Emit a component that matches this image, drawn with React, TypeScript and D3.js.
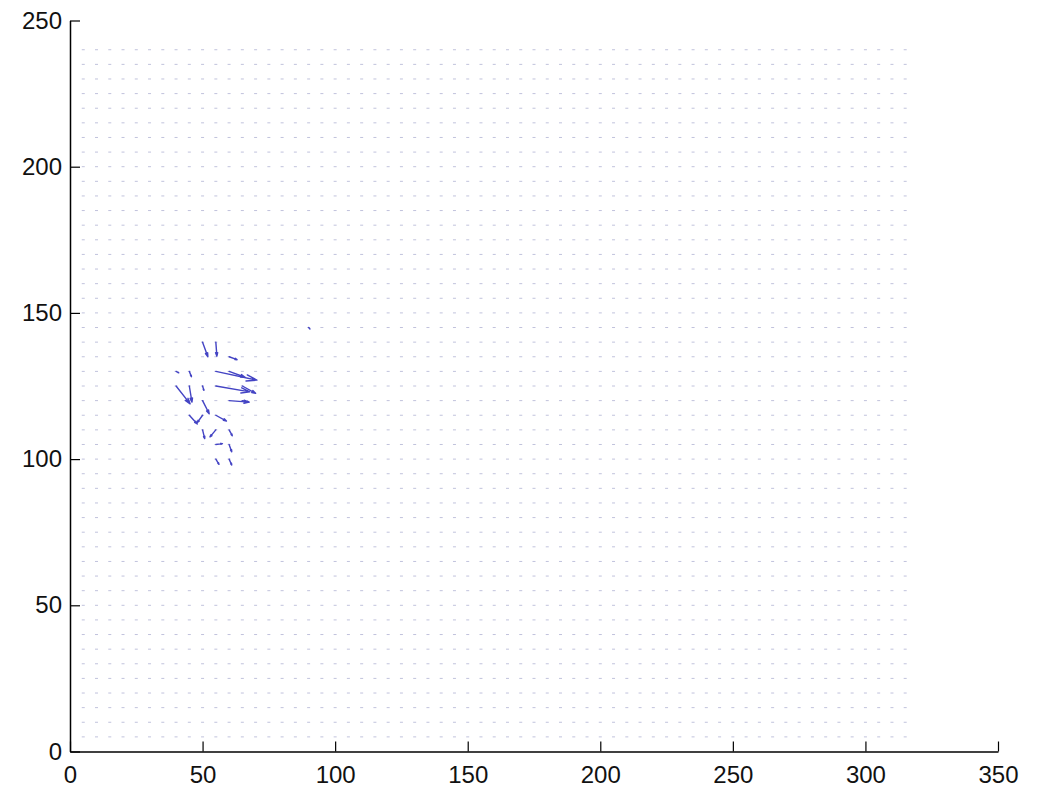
import React, { useEffect, useRef } from 'react';
import * as d3 from 'd3';

// grid of sample points (image coords, every 5 px)
const gridX = d3.range(5, 320, 5);
const gridY = d3.range(5, 245, 5);

// non-zero flow vectors: [x, y, u, v]
const flowX = [55, 50, 55, 60, 55, 60, 65, 65, 60, 40, 45, 40, 45, 50, 50, 45, 50, 55, 50, 55, 60, 55, 60, 55, 60, 90];
const flowY = [140, 140, 130, 130, 125, 120, 120, 125, 135, 130, 130, 125, 125, 125, 120, 115, 115, 115, 110, 110, 110, 105, 105, 100, 100, 145];
const flowU = [0.4, 2, 15.5, 6, 12.8, 7.5, 2.5, 5, 3, 1, 0.8, 5.3, 1, 0.5, 2.5, 3, -2, 4, 0.8, -2.2, 1.2, 2.5, 1, 1.2, 1, 0.5];
const flowV = [-4.8, -5, -3, -2, -2, -0.5, -0.5, -2.5, -1, -0.5, -1.8, -6.1, -5.5, -1.5, -4.5, -3, -2.5, -2, -3, -2.4, -2, 0.3, -2.5, -1.8, -2, -0.5];

const xTicks = [0, 50, 100, 150, 200, 250, 300, 350];
const yTicks = [0, 50, 100, 150, 200, 250];

const App = () => {
  const ref = useRef<SVGSVGElement>(null);

  useEffect(() => {
    const svg = d3.select(ref.current);
    svg.selectAll('*').remove();

    const x = d3.scaleLinear().domain([0, 350]).range([70, 998]);
    const y = d3.scaleLinear().domain([0, 250]).range([751.5, 20.5]);

    // background: zero vectors drawn as faint marks
    const pts = gridX.flatMap(gx => gridY.map(gy => [gx, gy]));
    svg.append('g')
      .selectAll('line')
      .data(pts)
      .join('line')
        .attr('x1', d => x(d[0]) - 1.5)
        .attr('x2', d => x(d[0]) + 1.5)
        .attr('y1', d => y(d[1]))
        .attr('y2', d => y(d[1]))
        .attr('stroke', '#c0c2dc')
        .attr('stroke-width', 1);

    // quiver arrows (matlab style heads)
    const flow = flowX.map((fx, i) => ({ x: fx, y: flowY[i], u: flowU[i], v: flowV[i] }));
    const alpha = 0.25, beta = 0.3;
    const arrowPath = d => {
      const x0 = x(d.x), y0 = y(d.y);
      const dx = x(d.x + d.u) - x0, dy = y(d.y + d.v) - y0;
      const x1 = x0 + dx, y1 = y0 + dy;
      const p = d3.path();
      p.moveTo(x0, y0);
      p.lineTo(x1, y1);
      p.moveTo(x1 - alpha * (dx + beta * dy), y1 - alpha * (dy - beta * dx));
      p.lineTo(x1, y1);
      p.lineTo(x1 - alpha * (dx - beta * dy), y1 - alpha * (dy + beta * dx));
      return p.toString();
    };
    svg.append('g')
      .selectAll('path')
      .data(flow)
      .join('path')
        .attr('d', arrowPath)
        .attr('fill', 'none')
        .attr('stroke', '#4444c4')
        .attr('stroke-width', 1.4)
        .attr('stroke-linecap', 'round')
        .attr('stroke-linejoin', 'round');

    // axes
    const font = 'Liberation Sans, Arial, sans-serif';
    const gx = svg.append('g')
      .attr('transform', `translate(0,${y(0)})`)
      .call(d3.axisBottom(x).tickValues(xTicks).tickSizeInner(-10).tickSizeOuter(0).tickPadding(14));
    const gy = svg.append('g')
      .attr('transform', `translate(${x(0)},0)`)
      .call(d3.axisLeft(y).tickValues(yTicks).tickSizeInner(-10).tickSizeOuter(0).tickPadding(8));
    [gx, gy].forEach(g => {
      g.selectAll('path.domain').attr('stroke', '#000').attr('stroke-width', 1.5);
      g.selectAll('.tick line').attr('stroke', '#000').attr('stroke-width', 1.2);
      g.selectAll('.tick text')
        .attr('fill', '#111')
        .style('font-family', font)
        .style('font-size', '24px');
    });
  }, []);

  return (
    <svg ref={ref} width={1040} height={789}
      style={{ position: 'absolute', left: 0, top: 0, background: '#fff' }}></svg>
  );
};

export default App;
